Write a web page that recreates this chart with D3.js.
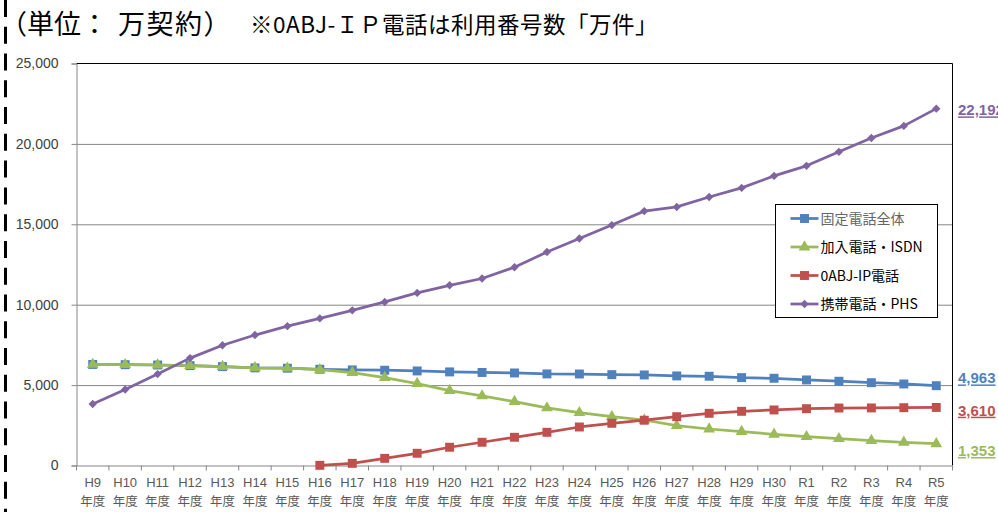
<!DOCTYPE html>
<html>
<head>
<meta charset="utf-8">
<script src="https://cdn.jsdelivr.net/npm/d3@7"></script>
<style>
  html, body { margin: 0; padding: 0; background: #fff; }
  svg { display: block; }
</style>
</head>
<body>
<svg id="chart" width="998" height="512"></svg>
<script>
// 年度
const categories = ["H9","H10","H11","H12","H13","H14","H15","H16","H17","H18","H19","H20","H21","H22","H23","H24","H25","H26","H27","H28","H29","H30","R1","R2","R3","R4","R5"];
const categorySuffix = "年度";

// 契約数（万）
const fixedTotal = [6285,6270,6250,6210,6150,6070,6050,5985,5945,5925,5880,5820,5785,5755,5695,5690,5650,5630,5570,5550,5465,5425,5320,5240,5150,5070,4963];
const subscriberIsdn = [6285,6270,6250,6210,6150,6070,6050,5955,5775,5465,5090,4655,4325,3970,3580,3285,3035,2830,2475,2270,2105,1940,1790,1665,1545,1445,1353];
const ipPhone0abj = [null,null,null,null,null,null,null,10,135,445,760,1135,1445,1755,2065,2395,2625,2815,3035,3245,3370,3455,3535,3575,3580,3595,3610];
const mobilePhs = [3825,4731,5685,6678,7482,8112,8665,9147,9648,10172,10734,11205,11629,12329,13276,14113,14950,15820,16080,16700,17265,18010,18635,19505,20370,21120,22192];

const yTicks = [0,5000,10000,15000,20000,25000];

const seriesNames = ["固定電話全体","加入電話・ISDN","0ABJ-IP電話","携帯電話・PHS"];
const seriesColors = ["#4F81BD","#9BBB59","#C0504D","#8064A2"];

const titleUnitHead = "（単位：";
const titleUnitTail = "万契約）";
const titleNote = "※0ABJ-ＩＰ電話は利用番号数「万件」";

const svg = d3.select("#chart");

const plot = { left: 76.5, right: 952.5, top: 63.5, bottom: 465.5 };

const x = d3.scaleBand().domain(categories).range([plot.left, plot.right]).padding(0);
const y = d3.scaleLinear().domain([0, 25000]).range([plot.bottom, plot.top]);
const cx = c => x(c) + x.bandwidth() / 2;

// left dashed margin rule
svg.append("line")
  .attr("x1", 5.5).attr("x2", 5.5)
  .attr("y1", 0).attr("y2", 512)
  .attr("stroke", "#000").attr("stroke-width", 3)
  .attr("stroke-dasharray", "17 9.77")
  .attr("stroke-dashoffset", 0);

// titles
const t1 = svg.append("text")
  .attr("x", 0).attr("y", 34)
  .attr("font-family", "'Noto Sans CJK JP'")
  .attr("font-size", 27)
  .attr("fill", "#000");
t1.append("tspan").text(titleUnitHead);
t1.append("tspan").attr("dx", 10).attr("letter-spacing", 1.5).text(titleUnitTail);

svg.append("text")
  .attr("x", 250).attr("y", 33)
  .attr("font-family", "'Noto Sans CJK JP'")
  .attr("font-size", 22.5)
  .attr("letter-spacing", 0.5)
  .attr("fill", "#000")
  .text(titleNote);

// gridlines
svg.append("g")
  .attr("transform", `translate(${plot.left},0)`)
  .call(d3.axisLeft(y).tickValues(yTicks.filter(v => v > 0 && v < 25000))
    .tickSize(-(plot.right - plot.left)).tickFormat(""))
  .call(g => g.select(".domain").remove())
  .call(g => g.selectAll("line").attr("stroke", "#868686").attr("stroke-width", 1));

// frame top and right
svg.append("path")
  .attr("d", `M${plot.left},${plot.top}H${plot.right}V${plot.bottom}`)
  .attr("fill", "none").attr("stroke", "#000").attr("stroke-width", 1);

// y axis
svg.append("g")
  .attr("transform", `translate(${plot.left},0)`)
  .call(d3.axisLeft(y).tickValues(yTicks).tickSize(5).tickPadding(13).tickFormat(d3.format(",")))
  .call(g => g.select(".domain").attr("stroke", "#868686"))
  .call(g => g.selectAll(".tick line").attr("stroke", "#868686"))
  .call(g => g.selectAll(".tick text")
    .attr("font-family", "'Liberation Sans', Arial, sans-serif")
    .attr("font-size", 14).attr("fill", "#404040"));

// x axis
const xAxis = svg.append("g")
  .attr("transform", `translate(0,${plot.bottom})`)
  .call(d3.axisBottom(x).tickSize(0).tickPadding(0))
  .call(g => g.select(".domain").attr("stroke", "#868686"));
xAxis.selectAll(".tick text").each(function(d) {
  const t = d3.select(this).text("")
    .attr("font-family", "'Liberation Sans', 'Noto Sans CJK JP', sans-serif")
    .attr("font-size", 13).attr("fill", "#595959").attr("dy", null).attr("y", 0);
  t.append("tspan").attr("x", 0).attr("y", 21).text(d);
  t.append("tspan").attr("x", 0).attr("y", 40).attr("font-size", 12.5).text(categorySuffix);
});
// boundary ticks between categories
xAxis.selectAll(".bound")
  .data(categories.concat([null]))
  .join("line")
  .attr("class", "bound")
  .attr("x1", (d, i) => plot.left + i * x.step())
  .attr("x2", (d, i) => plot.left + i * x.step())
  .attr("y1", 0).attr("y2", 5)
  .attr("stroke", "#868686");

// series
const seriesData = [fixedTotal, subscriberIsdn, ipPhone0abj, mobilePhs];
const symbols = [d3.symbolSquare, d3.symbolTriangle, d3.symbolSquare, d3.symbolDiamond2 || d3.symbolDiamond];
const symbolSizes = [80, 60, 80, 45];

const line = d3.line()
  .defined(d => d.v != null)
  .x(d => cx(d.c))
  .y(d => y(d.v));

seriesData.forEach((vals, si) => {
  const pts = categories.map((c, i) => ({ c, v: vals[i] }));
  const g = svg.append("g");
  g.append("path")
    .datum(pts)
    .attr("d", line)
    .attr("fill", "none")
    .attr("stroke", seriesColors[si])
    .attr("stroke-width", 2.75)
    .attr("stroke-linejoin", "round");
  g.selectAll("path.mk")
    .data(pts.filter(p => p.v != null))
    .join("path")
    .attr("class", "mk")
    .attr("transform", p => `translate(${cx(p.c)},${y(p.v)})`)
    .attr("d", d3.symbol().type(symbols[si]).size(symbolSizes[si]))
    .attr("fill", seriesColors[si]);
});

// end-of-series value labels
const endLabelOffsets = [-7.5, 7, 3, 1.5];
seriesData.forEach((vals, si) => {
  const v = vals[vals.length - 1];
  svg.append("text")
    .attr("x", 958)
    .attr("y", y(v) + endLabelOffsets[si])
    .attr("dy", "0.35em")
    .attr("font-family", "'Liberation Sans', Arial, sans-serif")
    .attr("font-weight", "bold")
    .attr("font-size", 15)
    .attr("text-decoration", "underline")
    .attr("fill", seriesColors[si])
    .text(d3.format(",")(v));
});

// legend
const legend = svg.append("g").attr("transform", "translate(775.5,204.5)");
legend.append("rect")
  .attr("width", 162).attr("height", 113)
  .attr("fill", "#fff").attr("stroke", "#000").attr("stroke-width", 1);
seriesNames.forEach((name, si) => {
  const ly = 14 + si * 28.5;
  const row = legend.append("g").attr("transform", `translate(0,${ly})`);
  row.append("line").attr("x1", 15).attr("x2", 43).attr("y1", 0).attr("y2", 0)
    .attr("stroke", seriesColors[si]).attr("stroke-width", 2.75);
  row.append("path").attr("transform", "translate(29,0)")
    .attr("d", d3.symbol().type(symbols[si]).size(symbolSizes[si]))
    .attr("fill", seriesColors[si]);
  row.append("text").attr("x", 45).attr("y", 0).attr("dy", "0.36em")
    .attr("font-family", "'Noto Sans CJK JP', sans-serif")
    .attr("font-size", 14)
    .attr("fill", si === 0 ? "#666" : "#000")
    .text(name);
});
</script>
</body>
</html>
